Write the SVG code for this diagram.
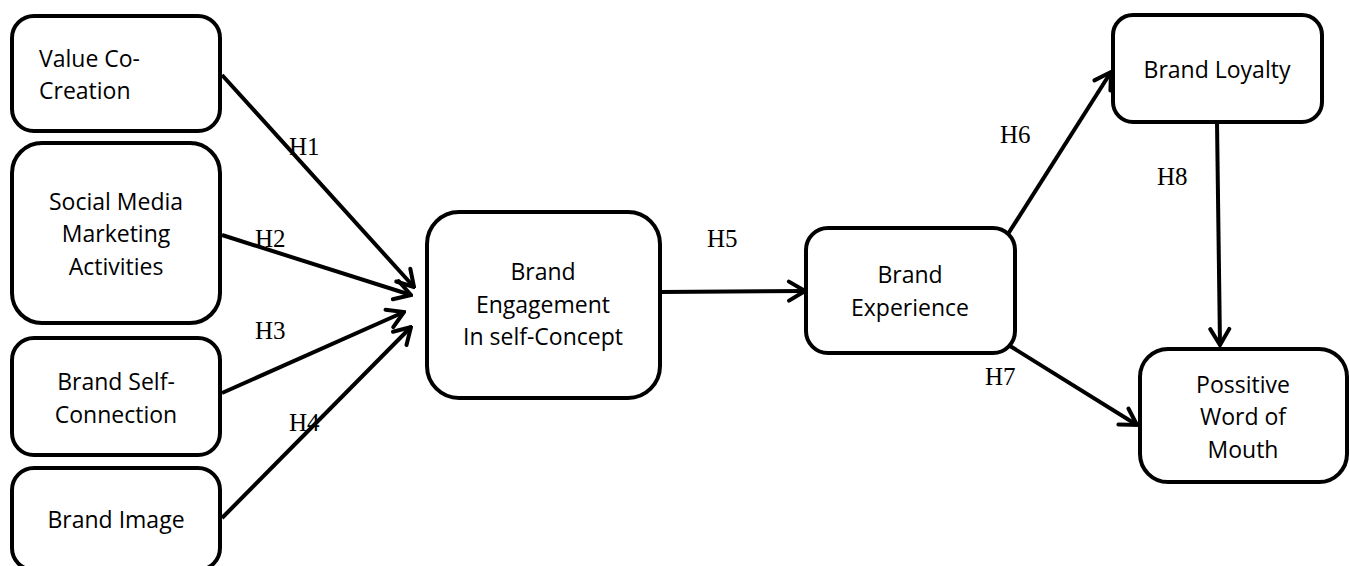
<svg xmlns="http://www.w3.org/2000/svg" width="1350" height="566" viewBox="0 0 1350 566">
<style>
.box{fill:#fff;stroke:#000;stroke-width:4}
.t{font-family:"Open Sans","Noto Sans",sans-serif;font-size:23px;fill:#000;text-anchor:middle}
.tl{font-family:"Open Sans","Noto Sans",sans-serif;font-size:23px;fill:#000}
.h{font-family:"Liberation Serif","Times New Roman",serif;font-size:25px;fill:#000}
.c{stroke:#000;stroke-width:4;fill:none}
</style>
<defs>
<marker id="arr" viewBox="-20 -12 22 24" refX="0" refY="0" markerWidth="22" markerHeight="24" markerUnits="userSpaceOnUse" orient="auto">
<path d="M-16,-9.5 L0,0 L-16,9.5" fill="none" stroke="#000" stroke-width="4" stroke-linecap="round" stroke-linejoin="miter"/>
</marker>
</defs>
<g id="connectors">
<line class="c" x1="222" y1="75" x2="414" y2="287" marker-end="url(#arr)"/>
<line class="c" x1="222" y1="235" x2="411" y2="295" marker-end="url(#arr)"/>
<line class="c" x1="222" y1="393" x2="404" y2="312" marker-end="url(#arr)"/>
<line class="c" x1="222" y1="518" x2="411" y2="327" marker-end="url(#arr)"/>
<line class="c" x1="660" y1="292" x2="805" y2="291" marker-end="url(#arr)"/>
<line class="c" x1="1008" y1="234" x2="1111" y2="72" marker-end="url(#arr)"/>
<line class="c" x1="1010" y1="346" x2="1137" y2="425" marker-end="url(#arr)"/>
<line class="c" x1="1217" y1="122" x2="1220" y2="345" marker-end="url(#arr)"/>
<text class="h" x="289" y="155">H1</text>
<text class="h" x="255" y="247">H2</text>
<text class="h" x="255" y="339">H3</text>
<text class="h" x="289" y="431">H4</text>
<text class="h" x="707" y="247">H5</text>
<text class="h" x="1000" y="143">H6</text>
<text class="h" x="985" y="385">H7</text>
<text class="h" x="1157" y="185">H8</text>
</g>
<g id="n-value">
<rect class="box" x="12" y="16" width="208" height="115" rx="22"/>
<text class="tl" x="39" y="67">Value Co-</text>
<text class="tl" x="39" y="99">Creation</text>
</g>
<g id="n-smma">
<rect class="box" x="12" y="143" width="208" height="180" rx="30"/>
<text class="t" x="116" y="210">Social Media</text>
<text class="t" x="116" y="242">Marketing</text>
<text class="t" x="116" y="275">Activities</text>
</g>
<g id="n-bsc">
<rect class="box" x="12" y="338" width="208" height="117" rx="22"/>
<text class="t" x="116" y="390">Brand Self-</text>
<text class="t" x="116" y="423">Connection</text>
</g>
<g id="n-bi">
<rect class="box" x="12" y="468" width="208" height="102" rx="22"/>
<text class="t" x="116" y="528">Brand Image</text>
</g>
<g id="n-be">
<rect class="box" x="427" y="212" width="233" height="186" rx="32"/>
<text class="t" x="543" y="280">Brand</text>
<text class="t" x="543" y="313">Engagement</text>
<text class="t" x="543" y="345">In self-Concept</text>
</g>
<g id="n-bx">
<rect class="box" x="806" y="228" width="209" height="125" rx="22"/>
<text class="t" x="910" y="283">Brand</text>
<text class="t" x="910" y="316">Experience</text>
</g>
<g id="n-bl">
<rect class="box" x="1113" y="15" width="209" height="107" rx="20"/>
<text class="t" x="1217" y="78">Brand Loyalty</text>
</g>
<g id="n-wom">
<rect class="box" x="1140" y="349" width="207" height="133" rx="28"/>
<text class="t" x="1243" y="393">Possitive</text>
<text class="t" x="1243" y="425">Word of</text>
<text class="t" x="1243" y="458">Mouth</text>
</g>
</svg>
